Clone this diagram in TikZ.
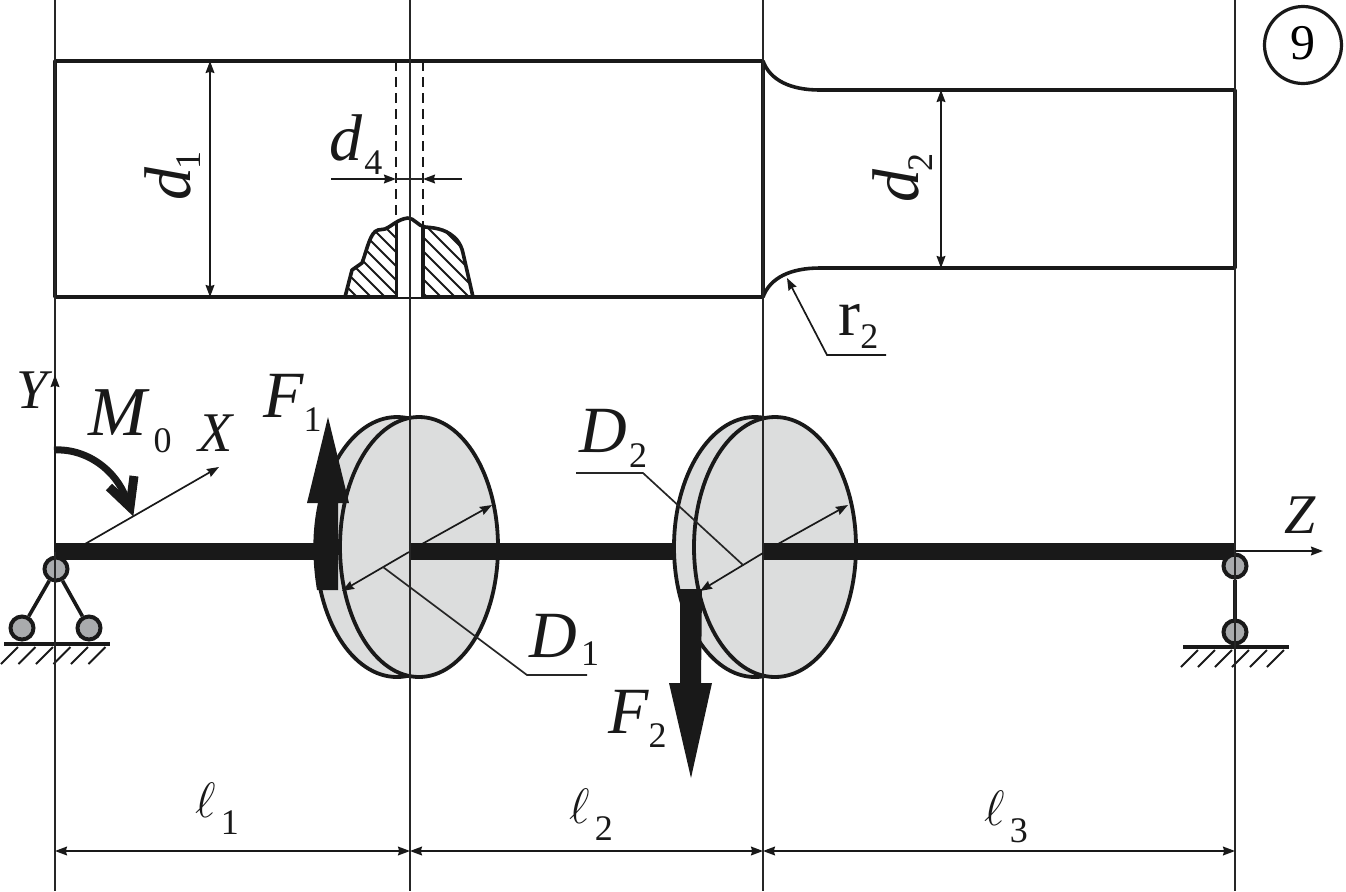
\documentclass[tikz,border=0pt]{standalone}
\usepackage{fontspec}
\setmainfont{Liberation Serif}
\usetikzlibrary{arrows.meta}
% [gap]{drop}{letter}{subscript}
\newcommand{\mainlab}[4][0pt]{{\fontsize{33}{33}\selectfont\itshape #3}\hspace{#1}\raisebox{-#2}{\fontsize{18}{18}\selectfont #4}}
\newcommand{\elllab}[1]{{\fontsize{32}{32}\selectfont $\ell$}\hspace{2.5pt}\raisebox{-8.5pt}{\fontsize{18}{18}\selectfont #1}}
\tikzset{
  thin line/.style={line width=0.85pt,draw=black!85},
  dim line/.style={line width=0.85pt,draw=black!90,{Stealth[length=6pt,width=4.4pt,inset=0.6pt]}-{Stealth[length=6pt,width=4.4pt,inset=0.6pt]}},
  one head/.style={line width=0.85pt,draw=black!90,-{Stealth[length=6pt,width=4.4pt,inset=0.6pt]}},
  contour/.style={line width=1.8pt,draw=black!90,line join=round},
  disc/.style={line width=1.9pt,draw=black!90,fill=discgray},
  beam/.style={line width=8.2pt,draw=black!90},
  pin/.style={circle,draw=black!90,fill=pingray,line width=2pt,minimum size=11.5pt,inner sep=0pt},
  leg/.style={line width=1.8pt,draw=black!90},
  ground/.style={line width=1.8pt,draw=black!90},
  gh/.style={line width=0.9pt,draw=black!90},
  lab/.style={inner sep=0pt,anchor=base west,text=black!90},
  force/.style={fill=black!90,draw=none},
}
\definecolor{discgray}{HTML}{DCDDDD}
\definecolor{pingray}{HTML}{A9ABAD}
\begin{document}
\begin{tikzpicture}[x=0.5pt,y=-0.5pt]
\useasboundingbox (0,0) rectangle (1346,891);
% stepped shaft
\draw[contour] (763,61) -- (55,61) -- (55,297) -- (763,297) -- cycle;
\draw[contour] (763,61) .. controls (770,80) and (790,90) .. (820,90) -- (1235,90) -- (1235,268) -- (820,268) .. controls (790,268) and (770,278) .. (763,297);
% local section with hole
\def\outline{(345,297) -- (352,270) -- (362,263) .. controls (367,250) and (370,232) .. (378,230) -- (385,229) .. controls (392,226) and (398,219) .. (408,218) .. controls (414,218) and (418,226) .. (425,227) .. controls (438,228) and (448,230) .. (457,240) .. controls (460,244) and (462,248) .. (463,253) -- (473,297)}
\begin{scope}
\clip \outline -- cycle;
\foreach \c in {270,284,...,480} \draw[line width=0.9pt,draw=black!90] (\c,210) -- (\c+100,310);
\fill[white] (397,200) rectangle (423,297);
\end{scope}
\draw[contour] \outline;
\draw[contour] (396.5,222) -- (396.5,297);
\draw[contour] (423,226) -- (423,297);
\draw[line width=0.85pt,draw=black!90,dash pattern=on 5pt off 3pt] (396,61) -- (396,222);
\draw[line width=0.85pt,draw=black!90,dash pattern=on 5pt off 3pt] (423,61) -- (423,226);
% dimensions on the shaft
\coordinate (d1t) at (210,61); \coordinate (d1b) at (210,297);
\coordinate (d2t) at (941,90); \coordinate (d2b) at (941,268);
\draw[dim line] (d1t) -- (d1b);
\draw[dim line] (d2t) -- (d2b);
\coordinate (d4a) at (331,179); \coordinate (d4b) at (396,179);
\coordinate (d4c) at (423,179); \coordinate (d4d) at (462,179);
\draw[one head] (d4a) -- (d4b);
\draw[one head] (d4d) -- (d4c);
\draw[thin line] (d4b) -- (d4c);
% r2 leader
\coordinate (r2tip) at (787,278); \coordinate (r2k) at (827,355); \coordinate (r2e) at (886,355);
\draw[one head] (r2e) -- (r2k) -- (r2tip);
% discs
\draw[disc] (397,547) ellipse [x radius=81,y radius=130];
\draw[disc] (419,547) ellipse [x radius=79,y radius=130];
% beams
\draw[beam] (55,551.5) -- (330,551.5);
\draw[beam] (410,551.5) -- (675,551.5);
\draw[disc] (755,547) ellipse [x radius=81,y radius=130];
\draw[disc] (775,547) ellipse [x radius=81,y radius=130];
\draw[beam] (763,551.5) -- (1235,551.5);
% supports
\node[pin] (pA) at (56,569) {};
\node[pin] (pB) at (22,628) {};
\node[pin] (pC) at (89,628) {};
\node[pin] (pD) at (1235,566) {};
\node[pin] (pE) at (1235,632) {};
\draw[leg] (pA) -- (pB);
\draw[leg] (pA) -- (pC);
\draw[leg] (pD) -- (pE);
\draw[ground] (4,644) -- (110,644);
\draw[ground] (1183,647) -- (1289,647);
\foreach \x in {18,35.5,53,70.5,88,105.5} \draw[gh] (\x,647) -- (\x-17,664);
\foreach \x in {1198,1215,1232,1249,1267,1284} \draw[gh] (\x,650) -- (\x-17,667);
% construction lines
\foreach \x in {55,410,763,1235} \draw[thin line] (\x,0) -- (\x,891);
% axes
\coordinate (org) at (55,551.5);
\coordinate (ytip) at (55,375); \coordinate (xs) at (85,544); \coordinate (xtip) at (219,467);
\coordinate (zs) at (1235,551); \coordinate (ztip) at (1323,551);
\draw[one head] (org) -- (ytip);
\draw[one head] (xs) -- (xtip);
\draw[one head] (zs) -- (ztip);
% moment
\draw[line width=3.5pt,draw=black!90] (54,450) .. controls (90,448) and (122,475) .. (129,508);
\draw[line width=4.5pt,draw=black!90,miter limit=3] (109,487) -- (130,507) -- (134,476);
% radius arrows
\coordinate (c1) at (409,552); \coordinate (c2) at (763,553);
\coordinate (r1up) at (492,505); \coordinate (r1dn) at (342,591);
\coordinate (r2up) at (848,505); \coordinate (r2dn) at (700,591);
\coordinate (r1st) at (422,544); \coordinate (r2st) at (778,544);
\draw[one head] (r1st) -- (r1up);
\draw[one head] (r2st) -- (r2up);
% forces
\fill[force] (317,590) .. controls (312,560) and (312,530) .. (318,503) -- (307,503) -- (328,417) -- (349,503) -- (338,503) -- (338,590) -- cycle;
\fill[force] (677,589) -- (702,589) -- (701,683) -- (712,683) -- (691,778) -- (669,683) -- (680,683) -- (680,600) -- cycle;
\draw[one head] (c1) -- (r1dn);
\draw[one head] (c2) -- (r2dn);
% leaders
\coordinate (l1a) at (383,567); \coordinate (l1b) at (527,675); \coordinate (l1c) at (587,675);
\coordinate (l2a) at (743,565); \coordinate (l2b) at (643,473); \coordinate (l2c) at (576,473);
\draw[thin line] (l1a) -- (l1b) -- (l1c);
\draw[thin line] (l2a) -- (l2b) -- (l2c);
% overall dimensions
\coordinate (a0) at (55,851); \coordinate (a1) at (410,851); \coordinate (a2) at (763,851); \coordinate (a3) at (1235,851);
\draw[dim line] (a0) -- (a1);
\draw[dim line] (a1) -- (a2);
\draw[dim line] (a2) -- (a3);
% circled number
\node[circle,draw=black!90,line width=1.6pt,minimum size=38.5pt,inner sep=0pt,font=\fontsize{25}{25}\selectfont] (nine) at (1303,45) {\raisebox{2.5pt}{9}};
% labels
\node[lab] (tM) at (88,435) {{\fontsize{35}{35}\selectfont\itshape M}\hspace{3.5pt}\raisebox{-8.5pt}{\fontsize{18}{18}\selectfont 0}};
\node[lab] (tY) at (16,408) {\fontsize{28}{28}\selectfont\itshape Y};
\node[lab] (tX) at (198,451) {\fontsize{28}{28}\selectfont\itshape X};
\node[lab] (tZ) at (1284,533) {\fontsize{28}{28}\selectfont\itshape Z};
\node[lab] (tF1) at (263,417) {\mainlab{7pt}{F}{1}};
\node[lab] (tF2) at (608,733) {\mainlab{7pt}{F}{2}};
\node[lab] (tD1) at (529,657) {\mainlab[2pt]{4pt}{D}{1}};
\node[lab] (tD2) at (579,452) {\mainlab[1pt]{7.5pt}{D}{2}};
\node[lab] (td4) at (329,160) {\mainlab[1pt]{7pt}{d}{4}};
\node[lab,rotate=90] (td1) at (190,201) {\mainlab[-1pt]{5.5pt}{d}{1}};
\node[lab,rotate=90] (td2) at (918,203) {\mainlab[-1pt]{7pt}{d}{2}};
\node[lab] (tr2) at (838,335) {{\fontsize{33}{33}\selectfont r}\raisebox{-6.5pt}{\fontsize{18}{18}\selectfont 2}};
\node[lab] (tl1) at (195,817) {\elllab{1}};
\node[lab] (tl2) at (569,823) {\elllab{2}};
\node[lab] (tl3) at (984,825) {\elllab{3}};
\end{tikzpicture}
\end{document}
